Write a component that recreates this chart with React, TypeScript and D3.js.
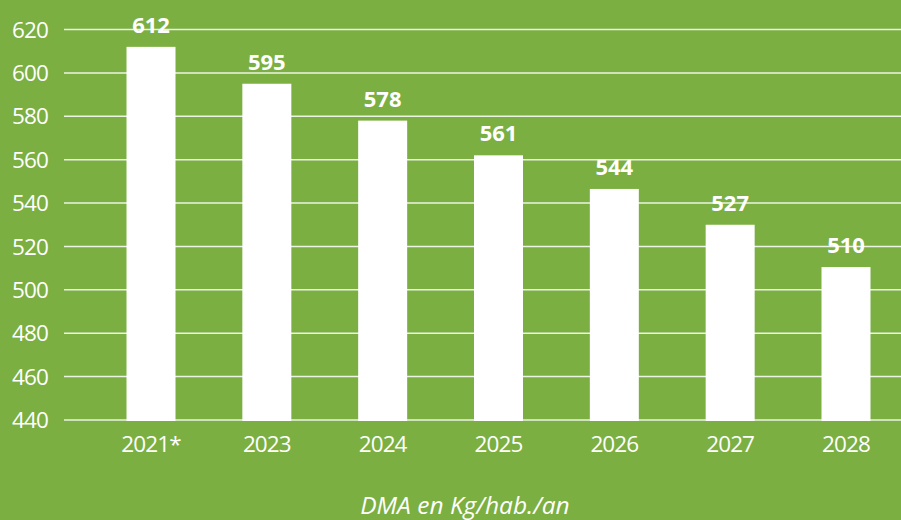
import React from "react";
import * as d3 from "d3";

const categories = ["2021*", "2023", "2024", "2025", "2026", "2027", "2028"];
const barValues = [612, 595, 578, 562, 546.5, 530, 510.5];
const valueLabels = ["612", "595", "578", "561", "544", "527", "510"];
const yTicks = [440, 460, 480, 500, 520, 540, 560, 580, 600, 620];
const axisTitle = "DMA en Kg/hab./an";

const W = 901;
const H = 520;
const BG = "#7BAF41";
const FONT = "'Open Sans', Lato, sans-serif";

export default function App() {
  const y = d3.scaleLinear().domain([440, 620]).range([420, 29.5]);
  const x = d3.scalePoint<string>().domain(categories).range([151, 846]);
  const barW = 49;
  const gridX0 = 64;

  return (
    <svg
      width={W}
      height={H}
      style={{ position: "absolute", left: 0, top: 0, display: "block" }}
    >
      <rect x={0} y={0} width={W} height={H} fill={BG} />
      {yTicks.map((t) => (
        <g key={t}>
          <line
            x1={gridX0}
            x2={W}
            y1={y(t)}
            y2={y(t)}
            stroke="rgba(255,255,255,0.85)"
            strokeWidth={1.5}
          />
          <text
            x={48}
            y={y(t)}
            dy="0.36em"
            textAnchor="end"
            fill="#fff"
            fontFamily={FONT}
            fontSize={22.5}
            letterSpacing={-0.9}
          >
            {t}
          </text>
        </g>
      ))}
      {categories.map((c, i) => {
        const cx = x(c) as number;
        const top = y(barValues[i]);
        return (
          <g key={c}>
            <rect
              x={cx - barW / 2}
              y={top}
              width={barW}
              height={y(440) + 1 - top}
              fill="#fff"
            />
            <text
              x={cx}
              y={top - 14}
              textAnchor="middle"
              fill="#fff"
              fontFamily={FONT}
              fontWeight={700}
              fontSize={22}
            >
              {valueLabels[i]}
            </text>
            <text
              x={cx}
              y={452}
              textAnchor="middle"
              fill="#fff"
              fontFamily={FONT}
              fontSize={22.5}
              letterSpacing={-0.9}
            >
              {c}
            </text>
          </g>
        );
      })}
      <text
        x={465}
        y={514}
        textAnchor="middle"
        fill="#fff"
        fontFamily={FONT}
        fontStyle="italic"
        fontSize={24.5}
      >
        {axisTitle}
      </text>
    </svg>
  );
}
